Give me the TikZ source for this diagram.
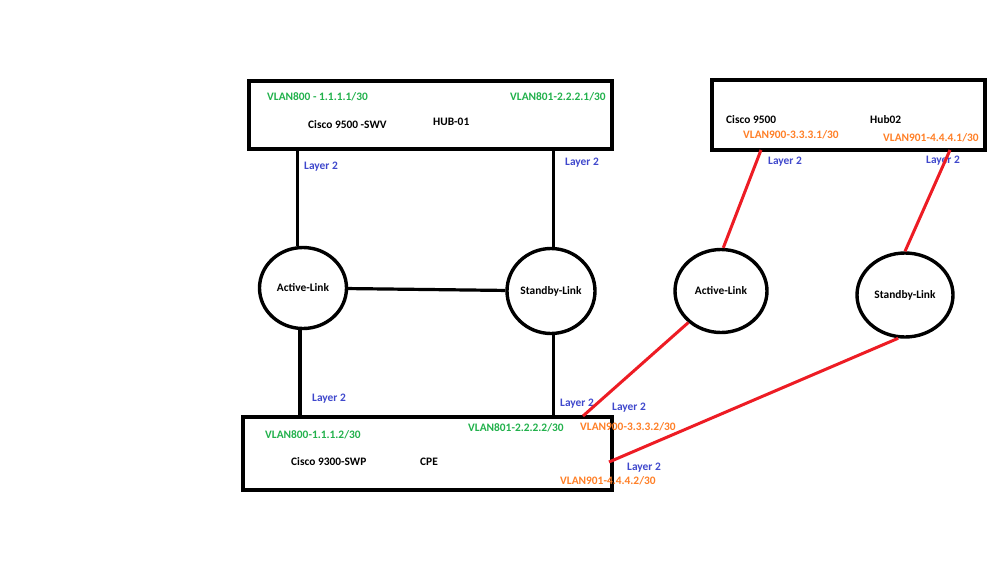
\documentclass[tikz,border=0pt]{standalone}
\usepackage{fontspec}
\setmainfont{Carlito}
\usetikzlibrary{shapes.geometric}
\definecolor{vlangreen}{RGB}{34,177,76}
\definecolor{vlanorange}{RGB}{255,127,39}
\definecolor{layerblue}{RGB}{63,72,204}
\definecolor{linkred}{RGB}{237,28,36}

\begin{document}
\begin{tikzpicture}[x=1pt,y=-1pt,
  devbox/.style={draw,line width=3.6pt,inner sep=0pt},
  linkring/.style={draw,ellipse,line width=3.4pt,inner sep=0pt,font=\fontsize{11.4}{13}\selectfont\bfseries},
  lbl/.style={font=\fontsize{11.4}{13}\selectfont\bfseries,anchor=west,inner sep=0pt},
  vgrn/.style={lbl,text=vlangreen},
  vorg/.style={lbl,text=vlanorange},
  lyr/.style={lbl,text=layerblue},
  wire/.style={line width=3.2pt},
  redwire/.style={draw=linkred,line width=3pt}]
  \useasboundingbox (0,0) rectangle (999,568);

  % switches
  \node[devbox,minimum width=363pt,minimum height=68pt] (hubone) at (430.5,115) {};
  \node[devbox,minimum width=273pt,minimum height=70pt] (hubtwo) at (848.5,115) {};
  \node[devbox,minimum width=369pt,minimum height=73pt] (cpe) at (427.5,453.5) {};

  % links
  \node[linkring,minimum width=87pt,minimum height=81pt] (actL) at (303,288) {Active-Link};
  \node[linkring,minimum width=88pt,minimum height=85pt] (stbL) at (551,291) {Standby-Link};
  \node[linkring,minimum width=92pt,minimum height=83pt] (actR) at (721,291) {Active-Link};
  \node[linkring,minimum width=96pt,minimum height=84pt] (stbR) at (905,295) {Standby-Link};

  % hub-01 texts
  \node[vgrn] (h1v800) at (267,97) {VLAN800 - 1.1.1.1/30};
  \node[vgrn] (h1v801) at (510,97) {VLAN801-2.2.2.1/30};
  \node[lbl] (h1name) at (308,125) {Cisco 9500 -SWV};
  \node[lbl] (h1tag) at (433,122) {HUB-01};

  % hub02 texts
  \node[lbl] (h2name) at (726,120) {Cisco 9500};
  \node[lbl] (h2tag) at (870,120) {Hub02};
  \node[vorg] (h2v900) at (743,135) {VLAN900-3.3.3.1/30};
  \node[vorg] (h2v901) at (883,138) {VLAN901-4.4.4.1/30};

  % cpe texts
  \node[vgrn] (cv800) at (265,435) {VLAN800-1.1.1.2/30};
  \node[vgrn] (cv801) at (468,428) {VLAN801-2.2.2.2/30};
  \node[vorg] (cv900) at (580,427) {VLAN900-3.3.3.2/30};
  \node[vorg] (cv901) at (560,481) {VLAN901-4.4.4.2/30};
  \node[lbl] (cname) at (291,462) {Cisco 9300-SWP};
  \node[lbl] (ctag) at (420,462) {CPE};

  % layer 2 tags
  \node[lyr] (l2a) at (304,167) {Layer 2};
  \node[lyr] (l2b) at (565,163) {Layer 2};
  \node[lyr] (l2c) at (768,162) {Layer 2};
  \node[lyr] (l2d) at (926,161) {Layer 2};
  \node[lyr] (l2e) at (312,399) {Layer 2};
  \node[lyr] (l2f) at (560,404) {Layer 2};
  \node[lyr] (l2g) at (612,408) {Layer 2};
  \node[lyr] (l2h) at (627,468) {Layer 2};

  % ports
  \coordinate (p900h) at (761,150);
  \coordinate (p901h) at (950,150);
  \coordinate (p900c) at (583,416);
  \coordinate (p901c) at (609,462);

  % black links
  \draw[wire] (actL.98) -- (actL.98 |- hubone.south);
  \draw[wire] (stbL.87) -- (stbL.87 |- hubone.south);
  \draw[wire] (actL) -- (stbL);
  \draw[wire] (actL.266) -- (actL.266 |- cpe.north);
  \draw[wire] (stbL.273) -- (stbL.273 |- cpe.north);

  % red links
  \draw[redwire] (p900h) -- (actR.87);
  \draw[redwire] (p901h) -- (stbR.north);
  \draw[redwire] (actR.224) -- (p900c);
  \draw[redwire] (stbR.261) -- (p901c);
\end{tikzpicture}
\end{document}
